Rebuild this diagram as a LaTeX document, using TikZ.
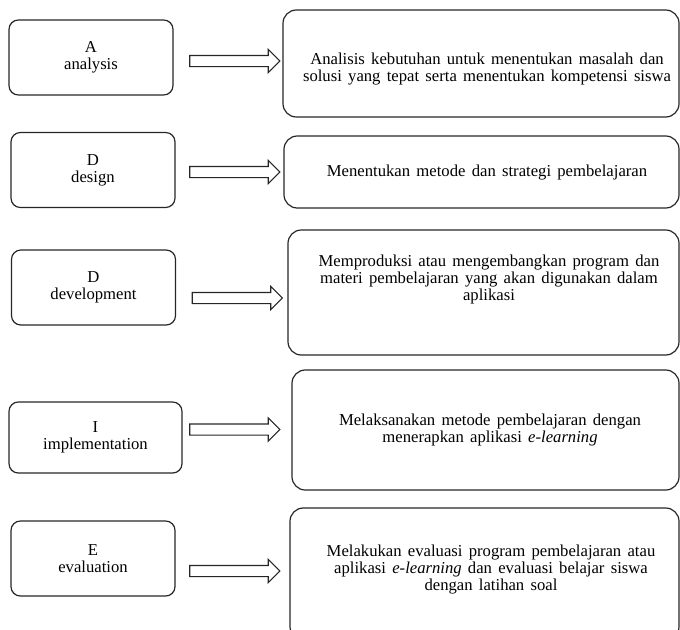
\documentclass[tikz,border=0pt]{standalone}
\usepackage{fontspec}
\setmainfont{Liberation Serif}[WordSpace=1.5]
\usetikzlibrary{shapes.arrows, positioning}

\begin{document}
\begin{tikzpicture}[x=0.75pt, y=-0.75pt,
    kiri/.style={draw=black!85, line width=0.9pt, rounded corners=7pt, align=center,
                 minimum width=123pt, minimum height=56.25pt, inner sep=0pt,
                 font=\fontsize{12.5}{12.75}\selectfont},
    kanan/.style={draw=black!85, line width=0.9pt, rounded corners=10pt, inner sep=0pt},
    teks/.style={align=center, inner sep=0pt, font=\fontsize{12.5}{12.75}\selectfont},
    panah/.style={single arrow, draw=black!85, line width=0.8pt, inner xsep=0pt,
                  inner ysep=3.75pt, minimum height=67.5pt, minimum width=16.5pt,
                  single arrow head extend=4.5pt, single arrow head indent=0pt}]
\clip (0,0) rectangle (680,629);

\node[kiri] (A)  at (91,57.5)   {A\\analysis};
\node[kiri] (D1) at (93,170)    {D\\design};
\node[kiri] (D2) at (93.5,287.5){D\\development};
\node[kiri, minimum width=129.75pt, minimum height=53.25pt]
            (I)  at (95.5,437.5){I\\implementation};
\node[kiri] (E)  at (93,558.5)  {E\\evaluation};

\node[panah] (pA)  at (232,61)    {};
\node[panah] (pD1) at (232,172)   {};
\node[panah] (pD2) at (234.5,298) {};
\node[panah] (pI)  at (232,429.5) {};
\node[panah] (pE)  at (232,571)   {};

\node[kanan, minimum width=297pt, minimum height=80.25pt]    (kA)  at (481,63.5)    {};
\node[kanan, minimum width=296.25pt, minimum height=54pt]    (kD1) at (481.5,172)   {};
\node[kanan, minimum width=293.25pt, minimum height=93.75pt] (kD2) at (483.5,292.5) {};
\node[kanan, minimum width=290.25pt, minimum height=90pt]    (kI)  at (485.5,430)   {};
\node[kanan, minimum width=291.75pt, minimum height=99pt]    (kE)  at (484.5,574)   {};

\node[teks] (tA)  at (487,69.5) {Analisis kebutuhan untuk menentukan masalah dan\\
    solusi yang tepat serta menentukan kompetensi siswa};
\node[teks] (tD1) at (487,173) {Menentukan metode dan strategi pembelajaran};
\node[teks] (tD2) at (489,279) {Memproduksi atau mengembangkan program dan\\
    materi pembelajaran yang akan digunakan dalam\\aplikasi};
\node[teks] (tI)  at (490,430) {Melaksanakan metode pembelajaran dengan\\
    menerapkan aplikasi \textit{e-learning}};
\node[teks] (tE)  at (491,570) {Melakukan evaluasi program pembelajaran atau\\
    aplikasi \textit{e-learning} dan evaluasi belajar siswa\\dengan latihan soal};
\end{tikzpicture}
\end{document}
